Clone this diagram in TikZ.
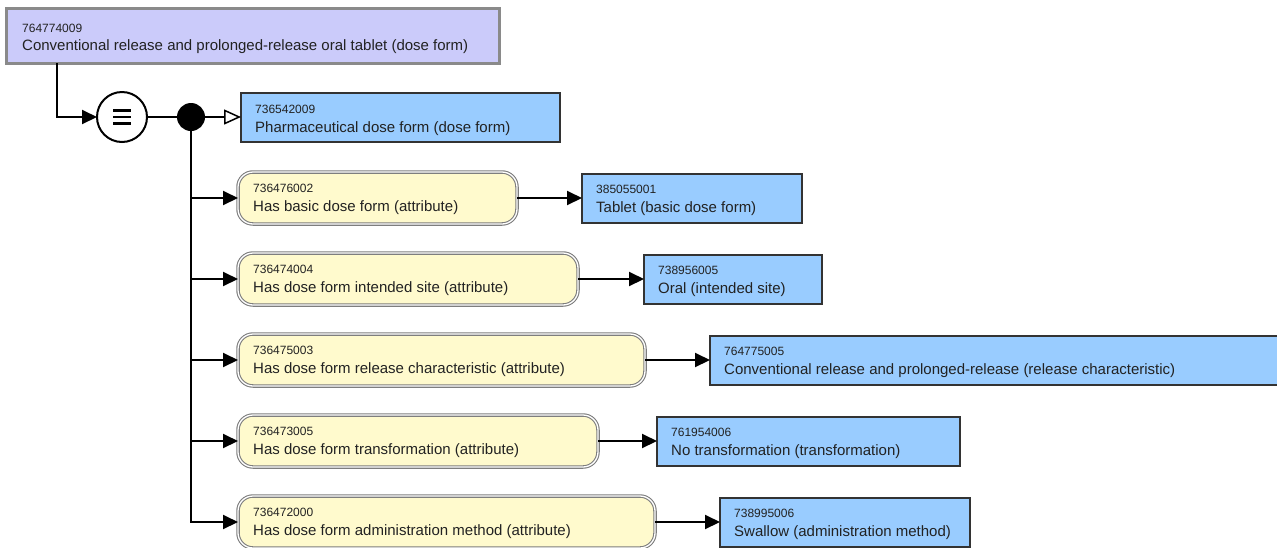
\documentclass[tikz,border=0pt]{standalone}
\usepackage{fontspec}
\setmainfont{Liberation Sans}
\usetikzlibrary{arrows.meta}
\definecolor{lav}{HTML}{CBCBFA}
\definecolor{valblue}{HTML}{99CCFF}
\definecolor{attryel}{HTML}{FFFACD}
\definecolor{txt}{HTML}{222222}
\definecolor{bord}{HTML}{333333}
\definecolor{topbord}{HTML}{8A8A8A}
\definecolor{attrbord}{HTML}{7E7E7E}
\begin{document}
\begin{tikzpicture}[x=1pt,y=-1pt,
  valbox/.style={draw=bord, line width=2pt, fill=valblue, anchor=north west, inner sep=0pt, outer sep=0pt},
  topbox/.style={draw=topbord, line width=3pt, fill=lav, anchor=north west, inner sep=0pt, outer sep=0pt},
  attrbox/.style={draw=attrbord, double=white, double distance=1.3pt, line width=1.1pt, fill=attryel, rounded corners=15pt, anchor=north west, inner sep=0pt, outer sep=0pt},
  num/.style={anchor=base west, font=\fontsize{12}{12}\selectfont, text=txt, inner sep=0pt},
  lab/.style={anchor=base west, font=\fontsize{15}{15}\selectfont, text=txt, inner sep=0pt},
  conn/.style={line width=2pt, -{Triangle[length=15pt,width=14pt]}},
  plain/.style={line width=2pt}
]
\useasboundingbox (0,0) rectangle (1277,547);

% top concept
\node[topbox, minimum width=493pt, minimum height=55pt] (top) at (6,8) {};
\node[num] (topn) at ([xshift=16pt,yshift=-24pt]top.north west) {764774009};
\node[lab] (topl) at ([xshift=16pt,yshift=-42pt]top.north west) {Conventional release and prolonged-release oral tablet (dose form)};

% equivalence circle and conjunction dot
\node[circle, draw=black, line width=2pt, fill=white, minimum size=50pt, inner sep=0pt, outer sep=0pt] (eq) at (122,117) {};
\draw[line width=2.4pt] ([xshift=-9pt,yshift=6.5pt]eq.center) -- ++(18pt,0pt);
\draw[line width=2.4pt] ([xshift=-9pt]eq.center) -- ++(18pt,0pt);
\draw[line width=2.4pt] ([xshift=-9pt,yshift=-6.5pt]eq.center) -- ++(18pt,0pt);
\node[circle, fill=black, minimum size=28pt, inner sep=0pt, outer sep=0pt] (dot) at (191,117) {};

% parent
\node[valbox, minimum width=319pt, minimum height=49pt] (par) at (241,93) {};
\node[num] (parn) at ([xshift=14pt,yshift=-20pt]par.north west) {736542009};
\node[lab] (parl) at ([xshift=14pt,yshift=-39pt]par.north west) {Pharmaceutical dose form (dose form)};

% attribute boxes
\node[attrbox, minimum width=279pt, minimum height=52pt] (a1) at (238,172) {};
\node[attrbox, minimum width=340pt, minimum height=52pt] (a2) at (238,253) {};
\node[attrbox, minimum width=407pt, minimum height=52pt] (a3) at (238,334) {};
\node[attrbox, minimum width=360pt, minimum height=52pt] (a4) at (238,415) {};
\node[attrbox, minimum width=417pt, minimum height=52pt] (a5) at (238,496) {};

\node[num] (a1n) at ([xshift=15pt,yshift=-20pt]a1.north west) {736476002};
\node[lab] (a1l) at ([xshift=15pt,yshift=-39pt]a1.north west) {Has basic dose form (attribute)};
\node[num] (a2n) at ([xshift=15pt,yshift=-20pt]a2.north west) {736474004};
\node[lab] (a2l) at ([xshift=15pt,yshift=-39pt]a2.north west) {Has dose form intended site (attribute)};
\node[num] (a3n) at ([xshift=15pt,yshift=-20pt]a3.north west) {736475003};
\node[lab] (a3l) at ([xshift=15pt,yshift=-39pt]a3.north west) {Has dose form release characteristic (attribute)};
\node[num] (a4n) at ([xshift=15pt,yshift=-20pt]a4.north west) {736473005};
\node[lab] (a4l) at ([xshift=15pt,yshift=-39pt]a4.north west) {Has dose form transformation (attribute)};
\node[num] (a5n) at ([xshift=15pt,yshift=-20pt]a5.north west) {736472000};
\node[lab] (a5l) at ([xshift=15pt,yshift=-39pt]a5.north west) {Has dose form administration method (attribute)};

% value boxes
\node[valbox, minimum width=220pt, minimum height=49pt] (v1) at (582,173.5) {};
\node[valbox, minimum width=178pt, minimum height=49pt] (v2) at (644,254.5) {};
\node[valbox, minimum width=580pt, minimum height=49pt] (v3) at (710,335.5) {};
\node[valbox, minimum width=303pt, minimum height=49pt] (v4) at (657,416.5) {};
\node[valbox, minimum width=250pt, minimum height=49pt] (v5) at (720,497.5) {};

\node[num] (v1n) at ([xshift=14pt,yshift=-20pt]v1.north west) {385055001};
\node[lab] (v1l) at ([xshift=14pt,yshift=-39pt]v1.north west) {Tablet (basic dose form)};
\node[num] (v2n) at ([xshift=14pt,yshift=-20pt]v2.north west) {738956005};
\node[lab] (v2l) at ([xshift=14pt,yshift=-39pt]v2.north west) {Oral (intended site)};
\node[num] (v3n) at ([xshift=14pt,yshift=-20pt]v3.north west) {764775005};
\node[lab] (v3l) at ([xshift=14pt,yshift=-39pt]v3.north west) {Conventional release and prolonged-release (release characteristic)};
\node[num] (v4n) at ([xshift=14pt,yshift=-20pt]v4.north west) {761954006};
\node[lab] (v4l) at ([xshift=14pt,yshift=-39pt]v4.north west) {No transformation (transformation)};
\node[num] (v5n) at ([xshift=14pt,yshift=-20pt]v5.north west) {738995006};
\node[lab] (v5l) at ([xshift=14pt,yshift=-39pt]v5.north west) {Swallow (administration method)};

% connectors
\draw[conn] ([xshift=51pt]top.south west) |- (eq.west);
\draw[plain] (eq.east) -- (dot.west);
\draw[line width=2pt, -{Triangle[open,length=17pt,width=15pt,line width=1.5pt]}] (dot.east) -- (dot.east -| par.west);
\draw[conn] (dot) |- (a1.west);
\draw[conn] (dot) |- (a2.west);
\draw[conn] (dot) |- (a3.west);
\draw[conn] (dot) |- (a4.west);
\draw[conn] (dot) |- (a5.west);
\draw[conn] (a1.east) -- (a1.east -| v1.west);
\draw[conn] (a2.east) -- (a2.east -| v2.west);
\draw[conn] (a3.east) -- (a3.east -| v3.west);
\draw[conn] (a4.east) -- (a4.east -| v4.west);
\draw[conn] (a5.east) -- (a5.east -| v5.west);
\end{tikzpicture}
\end{document}
